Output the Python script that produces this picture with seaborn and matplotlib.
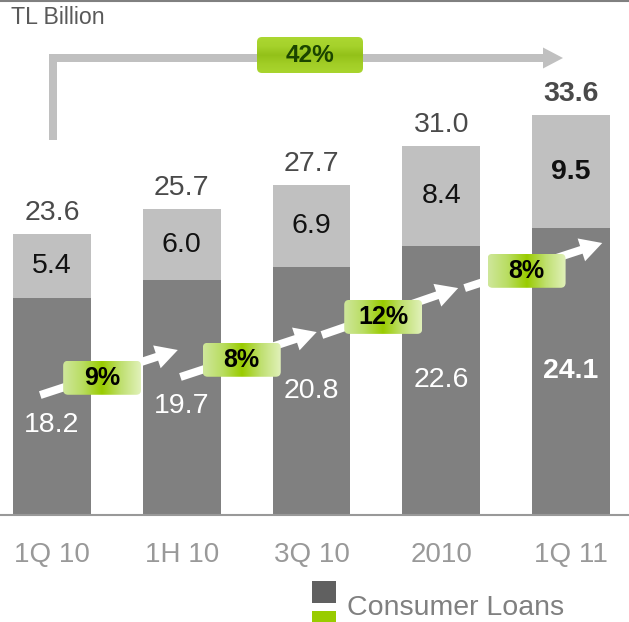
import numpy as np
import pandas as pd
import matplotlib
matplotlib.use("Agg")
import matplotlib.pyplot as plt
import seaborn as sns
from matplotlib.patches import FancyBboxPatch, FancyArrow, Polygon, Rectangle
from matplotlib.colors import LinearSegmentedColormap

# ---- data -------------------------------------------------------------
periods = ["1Q 10", "1H 10", "3Q 10", "2010", "1Q 11"]
consumer = [18.2, 19.7, 20.8, 22.6, 24.1]
other = [5.4, 6.0, 6.9, 8.4, 9.5]
totals = [23.6, 25.7, 27.7, 31.0, 33.6]
growth = ["9%", "8%", "12%", "8%"]
overall_growth = "42%"
unit_label = "TL Billion"
legend_label = "Consumer Loans"

# ---- layout (growth arrows, in data units of the bar axes) -------------
arrow_x0 = [-0.09, 0.99, 2.08, 3.18]
arrow_x1 = [0.97, 2.04, 3.13, 4.24]
arrow_y0 = [10.05, 11.57, 15.10, 19.05]
arrow_y1 = [13.84, 15.35, 19.05, 22.84]
dark_label_shift = [-13.7, -6.5, 0, 0, 0]   # points

DARK = "#808080"
LIGHT = "#c0c0c0"
GREEN = "#99cc00"

df = pd.DataFrame({"period": periods, "consumer": consumer, "total": totals})

W, H, DPI = 629, 622, 100
sns.set_theme(style="white")
plt.rcParams["font.family"] = ["Liberation Sans", "DejaVu Sans"]

fig = plt.figure(figsize=(W / DPI, H / DPI), dpi=DPI)
base_px = 514.5
ax = fig.add_axes([0, (H - base_px) / H, 1, (base_px - 1) / H])

sns.barplot(data=df, x="period", y="total", color=LIGHT, width=0.6,
            saturation=1, errorbar=None, linewidth=0, ax=ax)
sns.barplot(data=df, x="period", y="consumer", color=DARK, width=0.6,
            saturation=1, errorbar=None, linewidth=0, ax=ax)

ax.set_xlim(-0.40, 4.446)
ax.set_ylim(0, 43.2)
ax.set_xlabel("")
ax.set_ylabel("")
ax.set_yticks([])
ax.tick_params(axis="x", length=0, pad=20, labelsize=20, labelcolor="#999999")
for s in ("left", "right"):
    ax.spines[s].set_visible(False)
ax.spines["top"].set_color("#808080")
ax.spines["top"].set_linewidth(1.5)
ax.spines["bottom"].set_color("#999999")
ax.spines["bottom"].set_linewidth(1.5)
ax.patch.set_alpha(0)

n = len(periods)
for i in range(n):
    last = i == n - 1
    w = "bold" if last else "normal"
    ax.annotate(f"{totals[i]:.1f}", (i, totals[i]), xytext=(0, 10),
                textcoords="offset points", ha="center", va="baseline",
                fontsize=20.5, color="#4a4a4a", fontweight=w)
    ax.text(i, consumer[i] + other[i] / 2, f"{other[i]:.1f}", ha="center",
            va="center", fontsize=20.5, color="#111111", fontweight=w)
    ax.annotate(f"{consumer[i]:.1f}", (i, consumer[i] / 2),
                xytext=(0, dark_label_shift[i]), textcoords="offset points",
                ha="center", va="center", fontsize=20.5, color="white",
                fontweight=w)

# ---- overlay in pixel coordinates for arrows, badges and legend -------
ov = fig.add_axes([0, 0, 1, 1], zorder=5)
ov.set_xlim(0, W)
ov.set_ylim(H, 0)
ov.axis("off")
ov.patch.set_alpha(0)


def to_px(x, y):
    d = ax.transData.transform((x, y))
    return d[0], H - d[1]


def badge(cx, cy, w, h, colors, direction, text, tcolor, size):
    x0, y0 = cx - w / 2, cy - h / 2
    patch = FancyBboxPatch((x0, y0), w, h,
                           boxstyle="round,pad=0,rounding_size=5",
                           fc="none", ec="none", zorder=6)
    ov.add_patch(patch)
    cmap = LinearSegmentedColormap.from_list("badge", colors)
    g = np.linspace(0, 1, 256)
    arr = g[None, :] if direction == "h" else g[:, None]
    im = ov.imshow(arr, cmap=cmap, extent=(x0, x0 + w, y0 + h, y0),
                   aspect="auto", interpolation="bilinear", zorder=6)
    im.set_clip_path(patch)
    ov.text(cx, cy, text, ha="center", va="center", fontsize=size,
            fontweight="bold", color=tcolor, zorder=7)


# overall growth bracket
lx = to_px(0, 0)[0] + 1
ov.plot([lx, lx, 545], [140, 58, 58], color=LIGHT, lw=8 * 0.72,
        solid_joinstyle="miter", solid_capstyle="butt", zorder=5)
ov.add_patch(Polygon([(543, 47.5), (563, 58), (543, 68.5)],
                     closed=True, fc=LIGHT, ec="none", zorder=5))
badge(310, 55, 106, 36,
      ["#abd731", "#a6d22b", "#93c119", "#a2ce26", "#a9d52e"], "v",
      overall_growth, "#1b4500", 17.6)

# period-on-period growth arrows
for k in range(len(growth)):
    tx, ty = to_px(arrow_x0[k], arrow_y0[k])
    hx, hy = to_px(arrow_x1[k], arrow_y1[k])
    ov.add_patch(FancyArrow(tx, ty, hx - tx, hy - ty, width=8,
                            head_width=24, head_length=22,
                            length_includes_head=True, fc="white",
                            ec="none", zorder=5))
    f = 0.45
    cx = tx + f * (hx - tx)
    cy = ty + f * (hy - ty) + 3
    badge(cx, cy, 78, 34,
          ["#cfe79b", "#b9dd62", "#99cc00", "#c0e072", "#e1f1ba"], "h",
          growth[k], "#000000", 18)

# unit caption
ov.text(11, 24, unit_label, ha="left", va="baseline", fontsize=16.7,
        color="#595959")

# legend
ov.add_patch(Rectangle((312, 581), 24, 22, fc="#606060", ec="none"))
ov.add_patch(Rectangle((312, 611), 24, 12, fc=GREEN, ec="none"))
ov.text(347, 615, legend_label, ha="left", va="baseline", fontsize=20.5,
        color="#808080")

ov.set_xlim(0, W)
ov.set_ylim(H, 0)
fig.savefig("out.png", dpi=DPI)
